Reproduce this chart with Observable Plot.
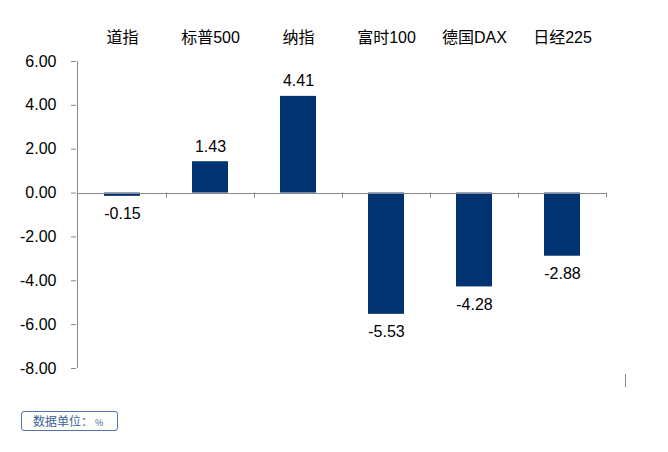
<!DOCTYPE html>
<html>
<head>
<meta charset="utf-8">
<script src="https://cdn.jsdelivr.net/npm/d3@7"></script>
<script src="https://cdn.jsdelivr.net/npm/@observablehq/plot@0.6"></script>
<style>
  html, body { margin: 0; padding: 0; background: #fff; }
  #wrap { position: relative; width: 668px; height: 452px; font-family: "Liberation Sans", Arial, "Noto Sans CJK SC", sans-serif; }
  #unit { position: absolute; left: 21px; top: 411px; width: 84px; height: 18px; border: 1.5px solid #4f73ad; border-radius: 3px;
          font: 12px "Noto Sans CJK SC", sans-serif; color: #3b5f98; line-height: 18px; padding-left: 11px; box-sizing: content-box; }
  #unit .pct { font-size: 9px; margin-left: 2px; }
  #mark { position: absolute; left: 625px; top: 374px; width: 1px; height: 13px; background: #888; }
</style>
</head>
<body>
<div id="wrap"><div id="unit">数据单位：<span class="pct">%</span></div><div id="mark"></div></div>
<script>
const categories = ["道指", "标普500", "纳指", "富时100", "德国DAX", "日经225"];
const values = [-0.15, 1.43, 4.41, -5.53, -4.28, -2.88];
const yTicks = [6, 4, 2, 0, -2, -4, -6, -8];

const data = categories.map((c, i) => ({cat: c, value: values[i]}));
const font = '"Liberation Sans", Arial, "Noto Sans CJK SC", sans-serif';

function guides(index, scales) {
  const g = d3.create("svg:g").attr("stroke", "#888").attr("stroke-width", 1).attr("fill", "none");
  const x = scales.x, y = scales.y;
  const left = x(categories[0]);
  const right = x(categories[categories.length - 1]) + x.bandwidth();
  const y0 = y(0);
  // y axis line
  g.append("line").attr("x1", left - 0.5).attr("x2", left - 0.5).attr("y1", y(yTicks[0])).attr("y2", y(yTicks[yTicks.length - 1]));
  // category boundary ticks
  const bounds = categories.map(c => x(c)).slice(1).concat([right]);
  for (const b of bounds) {
    g.append("line").attr("x1", b + 0.5).attr("x2", b + 0.5).attr("y1", y0).attr("y2", y0 + 5);
  }
  // zero line
  g.append("line").attr("x1", left).attr("x2", right).attr("y1", Math.round(y0) + 0.5).attr("y2", Math.round(y0) + 0.5);
  return g.node();
}

const chart = Plot.plot({
  width: 668,
  height: 452,
  marginLeft: 76,
  marginRight: 61,
  marginTop: 61,
  marginBottom: 84,
  style: {fontFamily: font, fontSize: "16px", color: "#000", background: "transparent"},
  x: {domain: categories, padding: 0},
  y: {domain: [-8, 6], ticks: yTicks},
  marks: [
    Plot.barY(data, {x: "cat", y: "value", fill: "#003370", insetLeft: 26, insetRight: 26}),
    Plot.axisY({ticks: yTicks, tickFormat: d => d.toFixed(2), tickSize: 5, tickPadding: 15, stroke: "#888", fill: "#000", fontSize: 16, label: null}),
    Plot.axisX({anchor: "top", tickSize: 0, tickPadding: 19, fontSize: 16, label: null, fill: "#000"}),
    guides,
    Plot.text(data.filter(d => d.value >= 0), {x: "cat", y: "value", text: d => d.value.toFixed(2), dy: -15, fontSize: 16, fill: "#000"}),
    Plot.text(data.filter(d => d.value < 0), {x: "cat", y: "value", text: d => d.value.toFixed(2), dy: 18, fontSize: 16, fill: "#000"})
  ]
});
chart.style.position = "absolute";
chart.style.left = "0";
chart.style.top = "0";
document.getElementById("wrap").prepend(chart);
</script>
</body>
</html>
